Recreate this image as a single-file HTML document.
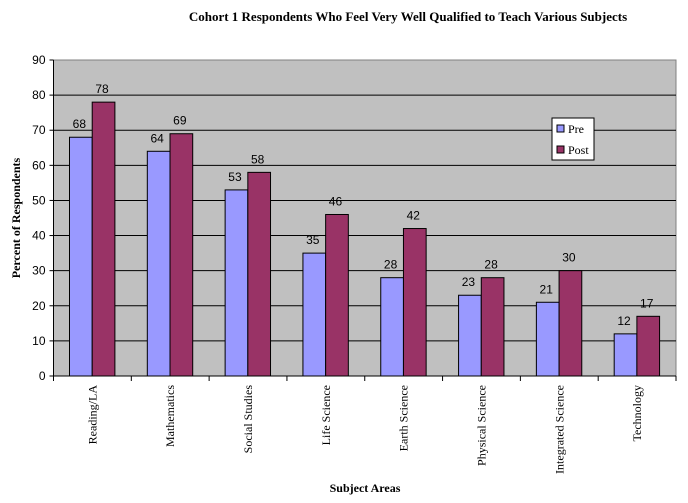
<!DOCTYPE html>
<html><head><meta charset="utf-8"><style>
body{margin:0;background:#fff;}
svg{display:block;font-family:"Liberation Serif",serif;}
.num{font-family:"Liberation Sans",sans-serif;}
</style></head><body>
<svg id="chart" width="688" height="503" xmlns="http://www.w3.org/2000/svg">
<text x="408" y="21" font-size="13" font-weight="bold" text-anchor="middle">Cohort 1 Respondents Who Feel Very Well Qualified to Teach Various Subjects</text>
<rect x="53.5" y="60" width="622.5" height="316" fill="#c0c0c0" stroke="#808080"/>
<g id="grid"></g><g id="bars"></g><g id="axes"></g>
<text transform="translate(20,218) rotate(-90)" font-size="12" font-weight="bold" text-anchor="middle">Percent of Respondents</text>
<text x="365" y="492" font-size="12" font-weight="bold" text-anchor="middle">Subject Areas</text>
<g>
<rect x="552" y="118" width="42" height="42" fill="#fff" stroke="#000"/>
<g><rect x="557" y="125" width="7" height="7" fill="#9999ff" stroke="#000"/><text x="568" y="133" font-size="12">Pre</text></g>
<g><rect x="557" y="146" width="7" height="7" fill="#993366" stroke="#000"/><text x="568" y="154" font-size="12">Post</text></g>
</g>
</svg>
<script>
const categories=["Reading/LA","Mathematics","Social Studies","Life Science","Earth Science","Physical Science","Integrated Science","Technology"];
const preValues=[68,64,53,35,28,23,21,12];
const postValues=[78,69,58,46,42,28,30,17];
const yTicks=[0,10,20,30,40,50,60,70,80,90];
const NS="http://www.w3.org/2000/svg";
const L=53.5,R=676,T=60,B=376,yMax=90;
const cw=(R-L)/categories.length,bw=22.7,off=16;
const y=v=>B-(v/yMax)*(B-T);
const x=i=>L+i*cw;
function mk(tag,attrs,parent,txt){const e=document.createElementNS(NS,tag);for(const k in attrs)e.setAttribute(k,attrs[k]);if(txt!==undefined)e.textContent=txt;parent.appendChild(e);return e;}
const grid=document.getElementById('grid'),bars=document.getElementById('bars'),axes=document.getElementById('axes');
yTicks.forEach(t=>{
 if(t>0&&t<yMax){const g=mk('line',{x1:L,x2:R,y1:y(t),y2:y(t),stroke:'#000'},grid);
 
 }
 mk('line',{x1:L-4,x2:L,y1:y(t),y2:y(t),stroke:'#000'},axes);
 const tl=mk('text',{x:L-8,y:y(t)+4,'font-size':12,'text-anchor':'end','class':'num'},axes,t);
 
 
});
mk('line',{x1:L,x2:L,y1:T,y2:B,stroke:'#000'},axes);
mk('line',{x1:L,x2:R,y1:B,y2:B,stroke:'#000'},axes);
categories.forEach((c,i)=>{
 mk('line',{x1:x(i),x2:x(i),y1:B,y2:B+5,stroke:'#000'},axes);
 if(i===categories.length-1)mk('line',{x1:R,x2:R,y1:B,y2:B+5,stroke:'#000'},axes);
 const cx=x(i)+cw/2;
 const lab=mk('text',{transform:`translate(${cx+4},385) rotate(-90)`,'font-size':12,'text-anchor':'end'},axes,c);
 
 
 [[preValues[i],'#9999ff',0,'pre'],[postValues[i],'#993366',bw,'post']].forEach(([v,col,dx,s])=>{
  const bx=x(i)+off+dx;
  const r=mk('rect',{x:bx,y:y(v),width:bw,height:B-y(v),fill:col,stroke:'#000'},bars);
  
  
  const t=mk('text',{x:bx+bw/2-1.5,y:y(v)-9,'font-size':12,'text-anchor':'middle','class':'num'},bars,v);
  
  
 });
});
</script>
</body></html>
